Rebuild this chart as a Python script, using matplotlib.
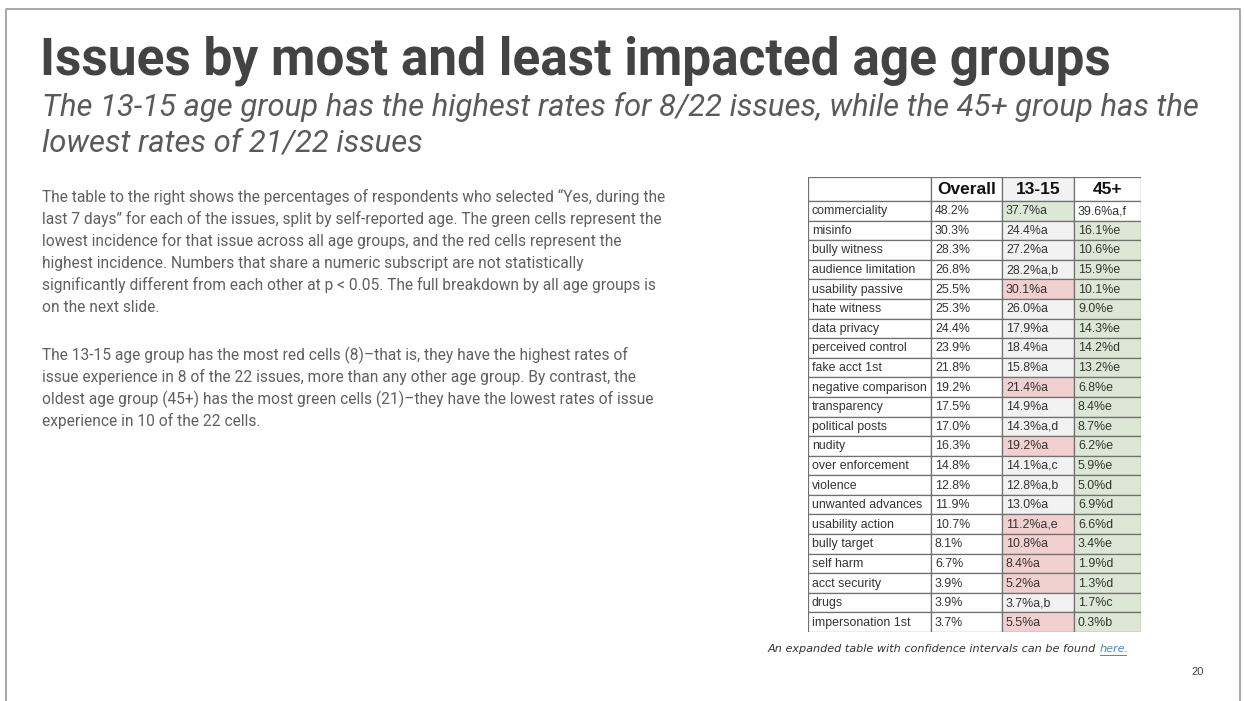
import matplotlib
matplotlib.use("Agg")
import matplotlib.pyplot as plt
from matplotlib.patches import Rectangle

# ---- table data ----
issues = ["commerciality", "misinfo", "bully witness", "audience limitation",
          "usability passive", "hate witness", "data privacy", "perceived control",
          "fake acct 1st", "negative comparison", "transparency", "political posts",
          "nudity", "over enforcement", "violence", "unwanted advances",
          "usability action", "bully target", "self harm", "acct security",
          "drugs", "impersonation 1st"]
overall = [48.2, 30.3, 28.3, 26.8, 25.5, 25.3, 24.4, 23.9, 21.8, 19.2, 17.5,
           17.0, 16.3, 14.8, 12.8, 11.9, 10.7, 8.1, 6.7, 3.9, 3.9, 3.7]
age_13_15 = [37.7, 24.4, 27.2, 28.2, 30.1, 26.0, 17.9, 18.4, 15.8, 21.4, 14.9,
             14.3, 19.2, 14.1, 12.8, 13.0, 11.2, 10.8, 8.4, 5.2, 3.7, 5.5]
sub_13_15 = ["a", "a", "a", "a,b", "a", "a", "a", "a", "a", "a", "a",
             "a,d", "a", "a,c", "a,b", "a", "a,e", "a", "a", "a", "a,b", "a"]
age_45 = [39.6, 16.1, 10.6, 15.9, 10.1, 9.0, 14.3, 14.2, 13.2, 6.8, 8.4,
          8.7, 6.2, 5.9, 5.0, 6.9, 6.6, 3.4, 1.9, 1.3, 1.7, 0.3]
sub_45 = ["a,f", "e", "e", "e", "e", "e", "e", "d", "e", "e", "e",
          "e", "e", "e", "d", "d", "d", "e", "d", "d", "c", "b"]
# lowest (low) / highest (high) incidence across all age groups
flag_13_15 = ["low", "", "", "", "high", "", "", "", "", "high", "",
              "", "high", "", "", "", "high", "high", "high", "high", "", "high"]
flag_45 = [""] + ["low"] * 21
headers = ["", "Overall", "13-15", "45+"]

title = "Issues by most and least impacted age groups"
subtitle = ["The 13-15 age group has the highest rates for 8/22 issues, while the 45+ group has the",
            "lowest rates of 21/22 issues"]
para1 = ["The table to the right shows the percentages of respondents who selected \u201cYes, during the",
         "last 7 days\u201d for each of the issues, split by self-reported age. The green cells represent the",
         "lowest incidence for that issue across all age groups, and the red cells represent the",
         "highest incidence. Numbers that share a numeric subscript are not statistically",
         "significantly different from each other at p < 0.05. The full breakdown by all age groups is",
         "on the next slide."]
para2 = ["The 13-15 age group has the most red cells (8)\u2013that is, they have the highest rates of",
         "issue experience in 8 of the 22 issues, more than any other age group. By contrast, the",
         "oldest age group (45+) has the most green cells (21)\u2013they have the lowest rates of issue",
         "experience in 10 of the 22 cells."]

W, H = 1244, 701
fig = plt.figure(figsize=(W / 100, H / 100), dpi=100)
fig.patch.set_facecolor("white")

# page layer in pixel units
bg = fig.add_axes([0, 0, 1, 1])
bg.set_xlim(0, W)
bg.set_ylim(H, 0)
bg.axis("off")

# slide frame
bg.plot([6, 6, 1240, 1240], [H, 9, 9, H], color="#a0a0a0", lw=1.3)

bg.text(40, 75, title, fontsize=37, fontweight="bold", family="Roboto",
        color="#434343", va="baseline")
for i, line in enumerate(subtitle):
    bg.text(42, 116.5 + i * 35, line, fontsize=22.35, style="italic", family="Roboto",
            color="#5a5a5a", va="baseline")

body_color = "#606060"
for i, line in enumerate(para1):
    bg.text(42, 202 + i * 22, line, fontsize=11.2, family="Roboto",
            color=body_color, va="baseline")
for i, line in enumerate(para2):
    bg.text(42, 360 + i * 22, line, fontsize=11.2, family="Roboto",
            color=body_color, va="baseline")

cap = bg.text(768, 652, "An expanded table with confidence intervals can be found ",
              fontsize=8.1, style="italic", family="DejaVu Sans", color="#333333",
              va="baseline")
fig.canvas.draw()
bb = cap.get_window_extent().transformed(bg.transData.inverted())
link = bg.text(bb.x1, 652, "here.", fontsize=8.1, style="italic",
               family="DejaVu Sans", color="#4a86c8", va="baseline")
lb = link.get_window_extent().transformed(bg.transData.inverted())
bg.plot([lb.x0, lb.x1 - 3], [654.5, 654.5], color="#4a86c8", lw=0.7)

bg.text(1198, 675, "20", fontsize=8, family="Liberation Sans", color="#444444",
        ha="center", va="baseline")

# ---- table ----
tx0, ty0, tx1, ty1 = 808, 177, 1141, 632
tab = fig.add_axes([tx0 / W, 1 - ty1 / H, (tx1 - tx0) / W, (ty1 - ty0) / H])
tab.axis("off")
col_w = [123, 71, 72, 67]
col_x = [0]
for w in col_w:
    col_x.append(col_x[-1] + w)
head_h = 24
row_h = (ty1 - ty0 - head_h) / len(issues)
tab.set_xlim(0, col_x[-1])
tab.set_ylim(head_h + row_h * len(issues), 0)

fill = {"": "white", "low": "#dce8d5", "high": "#f2d0d0"}
grey = "#f2f2f2"
edge = "#707070"
txt_color = "#333333"


def cell(c, top, h, face, txt):
    tab.add_patch(Rectangle((col_x[c], top), col_w[c], h, facecolor=face,
                            edgecolor=edge, lw=0.9))
    tab.text(col_x[c] + 4, top + h / 2 + 0.5, txt, va="center",
             family="Liberation Sans", fontsize=8.9, color=txt_color)


for c, hd in enumerate(headers):
    hcol = grey if hd == "13-15" else "white"
    tab.add_patch(Rectangle((col_x[c], 0), col_w[c], head_h, facecolor=hcol,
                            edgecolor=edge, lw=0.9))
    tab.text((col_x[c] + col_x[c + 1]) / 2, head_h / 2 + 1, hd, ha="center", va="center",
             family="Liberation Sans", fontweight="bold", fontsize=12.5, color="#111111")

for r, name in enumerate(issues):
    top = head_h + r * row_h
    cell(0, top, row_h, "white", name)
    cell(1, top, row_h, "white", f"{overall[r]:.1f}%")
    c2 = grey if flag_13_15[r] == "" else fill[flag_13_15[r]]
    cell(2, top, row_h, c2, f"{age_13_15[r]:.1f}%{sub_13_15[r]}")
    cell(3, top, row_h, fill[flag_45[r]], f"{age_45[r]:.1f}%{sub_45[r]}")

fig.savefig("out.png", dpi=100, facecolor="white")
